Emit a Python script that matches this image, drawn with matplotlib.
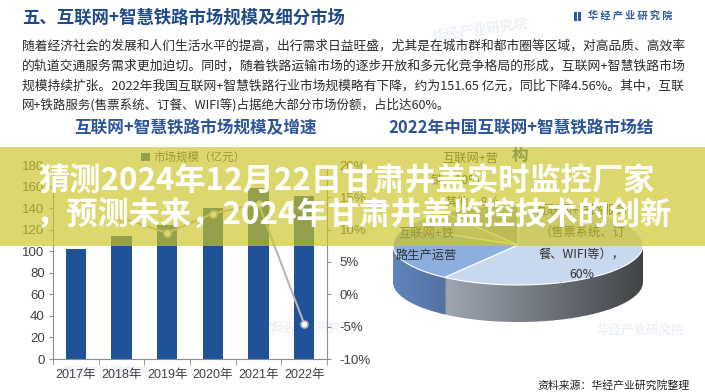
import numpy as np
import matplotlib
matplotlib.use("Agg")
import matplotlib.pyplot as plt
from matplotlib.patches import Rectangle, Polygon
from matplotlib.ticker import FuncFormatter

plt.rcParams['font.family'] = ['Noto Sans CJK SC', 'DejaVu Sans']

# =========================
# DATA
# =========================
years = ['2017年', '2018年', '2019年', '2020年', '2021年', '2022年']
market_size = [102, 114, 124, 140, 158.9, 151.65]          # 亿元
growth_years = years[1:]
growth_rate = [11.8, 9.5, 12.5, 14.0, -4.56]               # %

seg_names = ['互联网+铁路服务', '互联网+营销', '其他', '互联网+铁路生产运营']
seg_share = [60, 10, 8, 22]                                # %

header = '五、互联网+智慧铁路市场规模及细分市场'
paragraph = [
    '随着经济社会的发展和人们生活水平的提高，出行需求日益旺盛，尤其是在城市群和都市圈等区域，对高品质、高效率',
    '的轨道交通服务需求更加迫切。同时，随着铁路运输市场的逐步开放和多元化竞争格局的形成，互联网+智慧铁路市场',
    '规模持续扩张。2022年我国互联网+智慧铁路行业市场规模略有下降，约为151.65 亿元，同比下降4.56%。其中，互联',
    '网+铁路服务(售票系统、订餐、WIFI等)占据绝大部分市场份额，占比达60%。',
]
banner_lines = [
    '猜测2024年12月22日甘肃井盖实时监控厂家',
    '，预测未来，2024年甘肃井盖监控技术的创新',
]
left_title = '互联网+智慧铁路市场规模及增速'
right_title = ['2022年中国互联网+智慧铁路市场结', '构']
source = '资料来源：华经产业研究院整理'
brand = '华 经 产 业 研 究 院'

# =========================
# STYLE
# =========================
W, H = 705, 392
BLUE_TITLE = '#1f4a8a'
SUB_BLUE = '#2e5597'
BAR = '#1f5297'
AX_GRAY = '#8c8c8c'
TXT = '#404040'
NUM_FONT = ['Liberation Sans', 'Noto Sans CJK SC']


def fx(x):
    return x / W


def fy(y):
    return 1 - y / H


fig = plt.figure(figsize=(W / 100, H / 100), dpi=100)
fig.patch.set_facecolor('white')

# faint watermarks (behind everything)
for (wx, wy, s, rot) in [(480, 30, 10, 8), (105, 372, 9, 0), (310, 328, 9, 0), (640, 330, 9, 0)]:
    fig.text(fx(wx), fy(wy), '华经产业研究院', fontsize=s, color='#edf1f7',
             ha='center', va='center', rotation=rot, fontweight='bold', zorder=-5)

# header
fig.text(fx(22), fy(18), header, fontsize=12.5, fontweight='bold', color=BLUE_TITLE,
         ha='left', va='center')
fig.add_artist(Rectangle((fx(574), fy(21)), 2.5 / W, 9 / H, transform=fig.transFigure,
                         color='#2d5a9a', lw=0))
fig.add_artist(Rectangle((fx(578), fy(21)), 2.5 / W, 9 / H, transform=fig.transFigure,
                         color='#2d5a9a', lw=0))
fig.text(fx(588), fy(16), brand, fontsize=7.3, fontweight='bold', color='#2d5a9a',
         ha='left', va='center')

# paragraph
para_y = [46, 66, 86, 105]
para_texts = []
for line, y in zip(paragraph, para_y):
    para_texts.append(fig.text(fx(22), fy(y), line, fontsize=9, color='#2b2b2b',
                               ha='left', va='center'))

# sub titles
fig.text(fx(195), fy(128), left_title, fontsize=12, color=SUB_BLUE, ha='center',
         va='center', fontweight='bold')
fig.text(fx(521), fy(128), right_title[0], fontsize=12, color=SUB_BLUE, ha='center',
         va='center', fontweight='bold')
fig.text(fx(520), fy(156), right_title[1], fontsize=12, color=SUB_BLUE, ha='center',
         va='center', fontweight='bold')

# =========================
# BAR + LINE CHART
# =========================
ax = fig.add_axes([fx(53), fy(359), (327 - 53) / W, (359 - 165) / H])
ax.patch.set_alpha(0)
x = np.arange(len(years))
bars = ax.bar(x, market_size, width=0.44, color=BAR, label='市场规模（亿元）', zorder=2)
ax.set_xlim(-0.5, len(years) - 0.5)
ax.set_ylim(0, 180)
ax.set_yticks(range(0, 181, 20))
ax.set_xticks(x)
ax.set_xticklabels(years)
ax.set_xticks(np.arange(-0.5, len(years), 1), minor=True)
ax.tick_params(axis='x', which='major', length=0, pad=7, labelsize=9, labelcolor=TXT,
               labelfontfamily=NUM_FONT)
ax.tick_params(axis='x', which='minor', length=4, color=AX_GRAY)
ax.tick_params(axis='y', length=3, pad=3, color=AX_GRAY, labelsize=9.5, labelcolor=TXT,
               labelfontfamily=NUM_FONT)
for side in ['top', 'right']:
    ax.spines[side].set_visible(False)
for side in ['left', 'bottom']:
    ax.spines[side].set_color(AX_GRAY)

ax2 = ax.twinx()
gx = [years.index(g) for g in growth_years]
ax2.plot(gx, growth_rate, color='#b5b5b5', lw=1.5, marker='o', ms=5,
         mfc='white', mec='#b5b5b5', mew=1.2, zorder=3)
ax2.set_ylim(-10, 20)
ax2.set_yticks(range(-10, 21, 5))
ax2.yaxis.set_major_formatter(FuncFormatter(lambda v, p: f'{int(v)}%'))
ax2.tick_params(axis='y', length=3, pad=6, color=AX_GRAY, labelsize=9.5, labelcolor=TXT,
                labelfontfamily=NUM_FONT)
for side in ['top', 'left', 'bottom']:
    ax2.spines[side].set_visible(False)
ax2.spines['right'].set_color(AX_GRAY)

ax.legend(handles=[bars], loc='upper left', bbox_to_anchor=(fx(141), fy(151)),
          bbox_transform=fig.transFigure, frameon=False, fontsize=8.3,
          handlelength=0.8, handleheight=0.8, handletextpad=0.3,
          borderpad=0, borderaxespad=0, labelcolor=TXT)

# =========================
# 3D-LOOKING PIE
# =========================
depth = 0.925
axp = fig.add_axes([fx(393), fy(322), (643 - 393) / W, (322 - 205) / H])
top_colors = ['#c8d8ee', '#9aa8ba', '#b3bcc6', '#8cafdf']
side_colors = ['#b8c0cc', '#6e7a8a', '#7d8794', '#5f84bb']
start = 234

for d in np.linspace(depth, 0, 40):
    wedges, _ = axp.pie(seg_share, colors=side_colors, startangle=start,
                        center=(0, -d), wedgeprops={'linewidth': 0})
    for w in wedges:
        w.set_zorder(1)

xs = np.linspace(-1, 1, 300)
edge = -np.sqrt(1 - xs ** 2)
verts = np.column_stack([np.r_[xs, xs[::-1]], np.r_[edge, edge[::-1] - depth]])
clip = Polygon(verts, closed=True, transform=axp.transData, facecolor='none', edgecolor='none')
axp.add_patch(clip)
grad = np.zeros((2, 256, 4))
grad[..., 3] = np.linspace(0.0, 0.65, 256)[None, :]
im = axp.imshow(grad, extent=(-1, 1, -1 - depth, 0.05), aspect='auto', zorder=3,
                interpolation='bilinear')
im.set_clip_path(clip)

wedges, _ = axp.pie(seg_share, colors=top_colors, startangle=start,
                    wedgeprops={'linewidth': 0.8, 'edgecolor': 'white'})
for w in wedges:
    w.set_zorder(4)

axp.set_aspect('auto')
axp.set_xlim(-1, 1)
axp.set_ylim(-1 - depth, 1)
axp.axis('off')

# pie labels
lab_kw = dict(fontsize=8.8, color='#333333', ha='center', va='center', zorder=5)
fig.text(fx(582), fy(210), seg_names[0], **lab_kw)
fig.text(fx(582), fy(232), '（售票系统、订', **lab_kw)
fig.text(fx(582), fy(254), '餐、WIFI等），', **lab_kw)
fig.text(fx(582), fy(275), f'{seg_share[0]}%', **lab_kw)
fig.text(fx(470), fy(158), '互联网+营', **lab_kw)
fig.text(fx(455), fy(180), f'销，{seg_share[1]}%', **lab_kw)
fig.text(fx(472), fy(202), f'{seg_names[2]}，{seg_share[2]}%', **lab_kw)
fig.text(fx(426), fy(233), '互联网+铁', **lab_kw)
fig.text(fx(426), fy(255), '路生产运营', **lab_kw)

fig.text(fx(537), fy(385), source, fontsize=7.8, color='#222222', ha='left', va='center')

# =========================
# OVERLAY BANNER
# =========================
fig.add_artist(Rectangle((0, fy(246)), 1, (246 - 147) / H, transform=fig.transFigure,
                         facecolor=(205 / 255, 198 / 255, 40 / 255), alpha=0.68,
                         lw=0, zorder=10))
fig.text(fx(38), fy(181), banner_lines[0], fontsize=22.5, fontweight='bold', color='white',
         ha='left', va='center', zorder=11)
fig.text(fx(36), fy(215), banner_lines[1], fontsize=22.5, fontweight='bold', color='white',
         ha='left', va='center', zorder=11)

# justify the first paragraph lines to the text block width
fig.canvas.draw()
renderer = fig.canvas.get_renderer()
target = 685 - 22
for t in para_texts[:3]:
    wpx = t.get_window_extent(renderer).width
    t.set_fontsize(9 * target / wpx)

fig.savefig('out.png', dpi=100, facecolor='white')
